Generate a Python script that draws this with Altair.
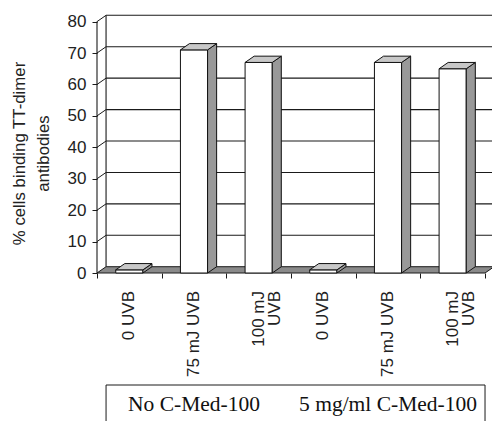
import altair as alt
import pandas as pd

# ---- data ----
categories = ["0 UVB", "75 mJ UVB", "100 mJ\nUVB", "0 UVB", "75 mJ UVB", "100 mJ\nUVB"]
values = [1, 71, 67, 1, 67, 65]
groups = ["No C-Med-100", "5 mg/ml C-Med-100"]
group_centers = [1.5, 4.5]
y_ticks = [0, 10, 20, 30, 40, 50, 60, 70, 80]
y_title = ["% cells binding TT-dimer", "antibodies"]

# ---- 3-D style parameters (depth offsets in data units) ----
DX = 0.14
DY = 2.0
HALF = 0.21
N = len(categories)
YMAX = 82.1
XMAX = 6.108

xs = alt.Scale(domain=[0, XMAX], nice=False, zero=False)
ys = alt.Scale(domain=[0, YMAX], nice=False, zero=False)
LINE = "#1a1a1a"

x_axis = alt.Axis(values=list(range(N + 1)), labels=False, ticks=True, tickSize=5,
                  domain=False, grid=False, title=None, tickColor=LINE)
y_axis = alt.Axis(values=y_ticks, tickSize=5, domain=False, grid=False,
                  labelFontSize=17, labelFont="Liberation Sans",
                  labelColor="#222222", labelPadding=6, tickColor=LINE,
                  labelOverlap=False,
                  title=y_title, titleFontSize=16.8, titleFont="Liberation Sans",
                  titleFontWeight="normal", titleColor="#222222",
                  titleAngle=270, titleAlign="center",
                  titleBaseline="alphabetic", titleLineHeight=24,
                  titleX=-73, titleY=138)


def X(f):
    return alt.X(f, scale=xs, axis=x_axis)


def Y(f):
    return alt.Y(f, scale=ys, axis=y_axis, stack=None)


# back wall gridlines (including top edge)
grid_df = pd.DataFrame({"y": [t + DY for t in y_ticks[1:]],
                        "x": [DX] * (len(y_ticks) - 1),
                        "x2": [N + DX] * (len(y_ticks) - 1)})
grid = alt.Chart(grid_df).mark_rule(color=LINE, strokeWidth=1.1).encode(
    x=X("x:Q"), x2="x2:Q", y=Y("y:Q"))

# side wall diagonals
diag_df = pd.DataFrame({"x": [0.0] * (len(y_ticks) - 1), "x2": [DX] * (len(y_ticks) - 1),
                        "y": y_ticks[1:], "y2": [t + DY for t in y_ticks[1:]]})
diag = alt.Chart(diag_df).mark_rule(color=LINE, strokeWidth=1).encode(
    x=X("x:Q"), x2="x2:Q", y=Y("y:Q"), y2="y2:Q")

# back wall left edge and front y axis line
edge_df = pd.DataFrame({"x": [DX, 0.0], "y": [DY, 0.0], "y2": [y_ticks[-1] + DY, y_ticks[-1]]})
edges = alt.Chart(edge_df).mark_rule(color=LINE, strokeWidth=1.1).encode(
    x=X("x:Q"), y=Y("y:Q"), y2="y2:Q")

# floor
floor_df = pd.DataFrame({"y": [0.0, DY], "xa": [0.0, DX], "xb": [float(N), N + DX]})
floor = alt.Chart(floor_df).mark_area(orient="horizontal", fill="#8a8a8a", stroke=LINE,
                                      strokeWidth=1).encode(
    y=Y("y:Q"), x=X("xa:Q"), x2="xb:Q")

# bars
centers = [i + 0.5 for i in range(N)]
bars_df = pd.DataFrame({"bar": list(range(N)),
                        "xl": [c - HALF for c in centers],
                        "xr": [c + HALF for c in centers],
                        "v": values})
front = alt.Chart(bars_df).mark_rect(fill="white", stroke="#111111", strokeWidth=1).encode(
    x=X("xl:Q"), x2="xr:Q", y=Y("v:Q"), y2=alt.datum(0))

side_rows = []
top_rows = []
for b, xl, xr, v in zip(bars_df["bar"], bars_df["xl"], bars_df["xr"], bars_df["v"]):
    side_rows.append({"bar": b, "x": xr, "lo": 0.0, "hi": v})
    side_rows.append({"bar": b, "x": xr + DX, "lo": DY, "hi": v + DY})
    top_rows.append({"bar": b, "y": v, "xa": xl, "xb": xr})
    top_rows.append({"bar": b, "y": v + DY, "xa": xl + DX, "xb": xr + DX})
side_df = pd.DataFrame(side_rows)
top_df = pd.DataFrame(top_rows)

side = alt.Chart(side_df).mark_area(orient="vertical", fill="#999999", stroke="#111111",
                                    strokeWidth=1).encode(
    x=X("x:Q"), y=Y("hi:Q"), y2="lo:Q", detail="bar:N")
top = alt.Chart(top_df).mark_area(orient="horizontal", fill="#c8c8c8", stroke="#111111",
                                  strokeWidth=1).encode(
    y=Y("y:Q"), x=X("xa:Q"), x2="xb:Q", detail="bar:N")

# category labels (rotated)
lab_df = pd.DataFrame({"x": centers, "label": categories})
labels = alt.Chart(lab_df).mark_text(angle=270, align="right", baseline="middle",
                                     lineBreak="\n", fontSize=17, lineHeight=16,
                                     font="Liberation Sans", color="#222222", clip=False).encode(
    x=X("x:Q"), y=alt.value(276), text="label:N")

# group box
box_h = pd.DataFrame({"x": [DX], "x2": [float(N)]})
box_top = alt.Chart(box_h).mark_rule(color=LINE, strokeWidth=1).encode(
    x=X("x:Q"), x2="x2:Q", y=alt.value(370))
box_v = pd.DataFrame({"x": [DX, float(N)]})
box_sides = alt.Chart(box_v).mark_rule(color=LINE, strokeWidth=1).encode(
    x=X("x:Q"), y=alt.value(370), y2=alt.value(420))

grp_df = pd.DataFrame({"x": group_centers, "g": groups})
grp = alt.Chart(grp_df).mark_text(fontSize=21.5, font="Liberation Serif", color="#111111",
                                  baseline="alphabetic", align="center", clip=False).encode(
    x=X("x:Q"), y=alt.value(396), text="g:N")

chart = alt.layer(grid, diag, edges, floor, front, side, top, labels,
                  box_top, box_sides, grp).properties(
    width=395, height=258,
    autosize=alt.AutoSizeParams(type="none"),
    padding={"left": 97, "top": 15, "right": 0, "bottom": 148},
    background="white",
).configure_view(stroke=None)

chart.save("out.html", embed_options={"renderer": "svg", "actions": False})
